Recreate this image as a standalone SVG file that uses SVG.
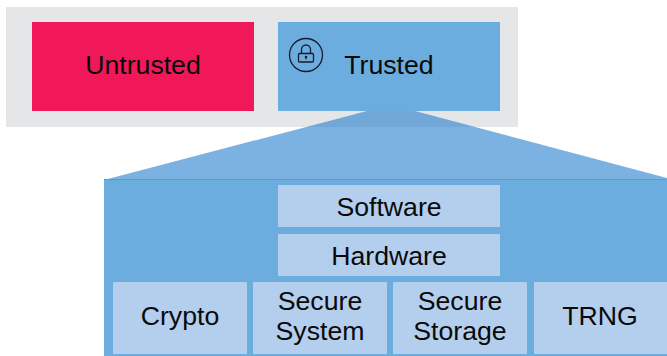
<svg xmlns="http://www.w3.org/2000/svg" width="667" height="356" viewBox="0 0 667 356">
<style>
text{font-family:"Liberation Sans",Arial,sans-serif;font-size:26.67px;fill:#0a0a0a;text-anchor:middle}
.l{fill:#b4cfed}
.i{fill:none;stroke:#1a1a2a;stroke-width:1.3}
</style>
<rect width="667" height="356" fill="#fff"/>
<g id="boundary"><rect x="6" y="7" width="512" height="120" fill="#e5e6e8"/></g>
<g id="untrusted"><rect x="32" y="22" width="222" height="89" fill="#f1185a"/><text x="143" y="74">Untrusted</text></g>
<g id="trusted"><rect x="278" y="22" width="222" height="89" fill="#6cade0"/><text x="389" y="74">Trusted</text>
<g id="lock"><circle cx="306" cy="55" r="16.500" class="i"/><path class="i" d="M301.500 53.500v-4a4.500 4.500 0 0 1 9 0v4"/><rect x="298.500" y="53.500" width="15" height="8.500" rx="1.200" class="i"/><circle cx="306" cy="57" r="1.300" fill="#1a1a2a"/><path d="M306 57v2.500" stroke="#1a1a2a" stroke-width="1"/></g></g>
<g id="connectors"><path d="M367 111H415L667 178V180H104Z" fill="#237fcd" fill-opacity=".6"/></g>
<g id="platform"><rect x="104" y="180" width="563" height="176" fill="#6cade0"/><path d="M104 179.500H667" stroke="#5a9bd3" stroke-width="1"/></g>
<g id="software"><rect class="l" x="278" y="185" width="222" height="42"/><text x="389" y="216">Software</text></g>
<g id="hardware"><rect class="l" x="278" y="234" width="222" height="42"/><text x="389" y="265">Hardware</text></g>
<g id="crypto"><rect class="l" x="113" y="282" width="134" height="72"/><text x="180" y="325">Crypto</text></g>
<g id="secure-system"><rect class="l" x="253" y="282" width="134" height="72"/><text x="320" y="310">Secure</text><text x="320" y="340">System</text></g>
<g id="secure-storage"><rect class="l" x="393" y="282" width="134" height="72"/><text x="460" y="310">Secure</text><text x="460" y="340">Storage</text></g>
<g id="trng"><rect class="l" x="534" y="282" width="133" height="72"/><text x="600" y="325">TRNG</text></g>
</svg>
